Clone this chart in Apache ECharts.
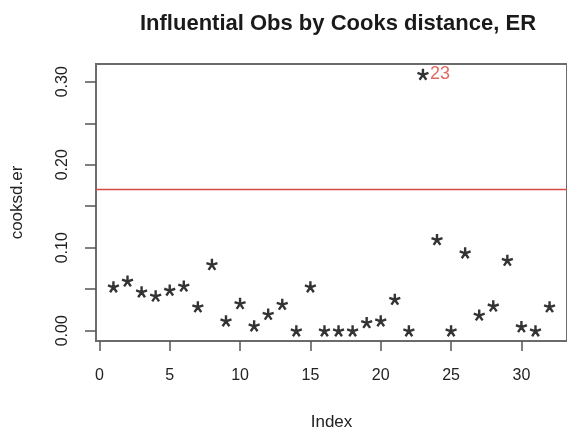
<!DOCTYPE html>
<html>
<head>
<meta charset="utf-8">
<script src="https://cdn.jsdelivr.net/npm/echarts@6/dist/echarts.min.js"></script>
<style>
  html, body { margin: 0; padding: 0; background: #fff; }
  #main { width: 567px; height: 436px; }
</style>
</head>
<body>
<div id="main"></div>
<script>
var obsIndex = [1, 2, 3, 4, 5, 6, 7, 8, 9, 10, 11, 12, 13, 14, 15, 16,
                17, 18, 19, 20, 21, 22, 23, 24, 25, 26, 27, 28, 29, 30, 31, 32];
var cooksd = [0.053, 0.060, 0.047, 0.042, 0.049, 0.054, 0.029, 0.080,
              0.012, 0.033, 0.006, 0.020, 0.032, 0.000, 0.053, 0.000,
              0.000, 0.000, 0.010, 0.012, 0.038, 0.000, 0.309, 0.110,
              0.000, 0.094, 0.019, 0.030, 0.085, 0.005, 0.000, 0.029];
var cutoff = 0.1667;
var flagged = [23];
var xTicks = [0, 5, 10, 15, 20, 25, 30];
var yTicks = [0, 0.05, 0.10, 0.15, 0.20, 0.25, 0.30];
var yLabels = [0, 0.10, 0.20, 0.30];

var myChart = echarts.init(document.getElementById('main'));

// 5 armed asterisk, like R's pch = "*"
var star = 'path://M0 0L0 -5M0 0L4.76 -1.55M0 0L2.94 4.05M0 0L-2.94 4.05M0 0L-4.76 -1.55';

var points = obsIndex.map(function (idx, i) {
    var p = { value: [idx, cooksd[i]] };
    if (flagged.indexOf(idx) >= 0) {
        p.label = {
            show: true,
            position: 'right',
            distance: -1,
            formatter: String(idx),
            color: '#d8443c',
            fontSize: 18,
            fontFamily: 'Liberation Sans'
        };
    }
    return p;
});

var font = 'Liberation Sans';

myChart.setOption({
    animation: false,
    title: {
        text: 'Influential Obs by Cooks distance, ER',
        left: 333,
        top: 8,
        textAlign: 'center',
        textStyle: { fontSize: 22, fontWeight: 'bold', color: '#1a1a1a', fontFamily: font }
    },
    grid: {
        left: 96,
        right: -3,
        top: 64,
        bottom: 94,
        show: true,
        borderColor: '#6b6b6b',
        borderWidth: 2,
        containLabel: false
    },
    xAxis: {
        type: 'value',
        min: -0.24,
        max: 33.24,
        name: 'Index',
        nameLocation: 'middle',
        nameGap: 73,
        nameTextStyle: { fontSize: 17, color: '#222', fontFamily: font },
        axisLine: { show: false, onZero: false },
        splitLine: { show: false },
        axisTick: {
            show: true,
            inside: false,
            customValues: xTicks,
            length: 10,
            lineStyle: { color: '#555', width: 1.5 }
        },
        axisLabel: {
            customValues: xTicks,
            margin: 27,
            fontSize: 16,
            color: '#222',
            fontFamily: font
        }
    },
    yAxis: {
        type: 'value',
        min: -0.0124,
        max: 0.3214,
        name: 'cooksd.er',
        nameLocation: 'middle',
        nameGap: 70,
        nameRotate: 90,
        nameTextStyle: { fontSize: 17, color: '#222', fontFamily: font },
        axisLine: { show: false, onZero: false },
        splitLine: { show: false },
        axisTick: {
            show: true,
            inside: false,
            customValues: yTicks,
            length: 11,
            lineStyle: { color: '#555', width: 1.5 }
        },
        axisLabel: {
            customValues: yLabels,
            rotate: 90,
            margin: 25,
            fontSize: 16,
            color: '#222',
            fontFamily: font,
            formatter: function (v) { return v.toFixed(2); }
        }
    },
    series: [{
        type: 'scatter',
        data: points,
        symbol: star,
        symbolSize: 11,
        itemStyle: { color: 'none', borderColor: '#000', borderWidth: 2.4 },
        markLine: {
            silent: true,
            symbol: 'none',
            label: { show: false },
            lineStyle: { color: '#d44a44', width: 1.3, type: 'solid' },
            data: [{ yAxis: cutoff }]
        }
    }]
});
</script>
</body>
</html>
